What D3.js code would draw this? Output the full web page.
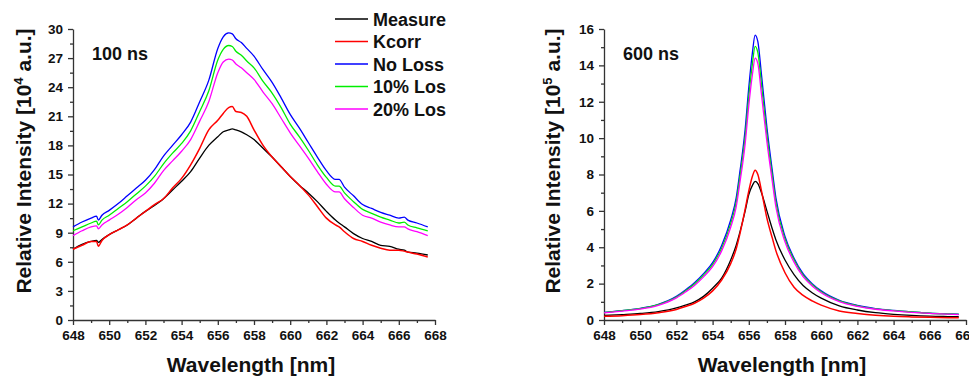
<!DOCTYPE html>
<html>
<head>
<meta charset="utf-8">
<script src="https://cdn.jsdelivr.net/npm/d3@7"></script>
<style>
  body { margin: 0; background: #fff; }
  svg text { font-family: Arial, "Liberation Sans", sans-serif; font-weight: bold; fill: #111; }
</style>
</head>
<body>
<div id="chartDiv"></div>
<script>
// series names + colours (legend order)
var seriesNames = ["Measure", "Kcorr", "No Loss", "10% Los", "20% Los"];
var seriesColors = ["#000000", "#ff0000", "#0000ff", "#00ee00", "#ff00ff"];

// 100 ns panel, values in 10^4 a.u.
var wlA = [648, 648.5, 649, 649.3, 649.4, 649.6, 650, 650.5, 651, 651.5,
           652, 652.5, 653, 653.5, 654, 654.5, 655, 655.5, 656, 656.3,
           656.6, 656.8, 657, 657.3, 657.6, 658, 658.5, 659, 659.5, 660,
           660.5, 661, 661.5, 662, 662.5, 662.7, 663, 663.5, 664, 664.5,
           665, 665.5, 666, 666.3, 666.5, 667, 667.6];
var measureA = [7.3, 7.8, 8.1, 8.2, 8.0, 8.3, 8.8, 9.3, 9.8, 10.5,
                11.2, 11.8, 12.5, 13.4, 14.3, 15.3, 16.7, 18.0, 18.9, 19.4,
                19.6, 19.7, 19.6, 19.4, 19.1, 18.6, 17.7, 16.8, 15.8, 14.8,
                13.9, 13.1, 12.2, 11.2, 10.3, 10.0, 9.6, 8.9, 8.4, 8.1,
                7.7, 7.6, 7.3, 7.2, 7.0, 6.9, 6.7];
var kcorrA = [7.3, 7.7, 8.1, 8.1, 7.6, 8.2, 8.8, 9.3, 9.8, 10.5,
              11.2, 11.9, 12.5, 13.6, 14.6, 16.0, 17.7, 19.6, 20.6, 21.3,
              21.9, 22.0, 21.5, 21.4, 21.0, 19.6, 18.0, 16.8, 15.8, 14.8,
              13.9, 12.9, 11.7, 10.5, 9.8, 9.6, 9.1, 8.4, 8.1, 7.7,
              7.4, 7.2, 7.2, 7.1, 7.0, 6.8, 6.5];
var noLossA = [9.6, 10.1, 10.5, 10.7, 10.3, 10.8, 11.3, 12.0, 12.8, 13.6,
               14.4, 15.5, 16.9, 18.0, 19.1, 20.4, 22.5, 24.7, 28.0, 29.2,
               29.6, 29.5, 29.0, 28.6, 28.0, 27.2, 25.8, 24.5, 22.9, 21.2,
               19.8, 18.3, 16.8, 15.4, 14.5, 14.5, 13.7, 12.8, 11.9, 11.5,
               11.1, 10.8, 10.5, 10.6, 10.3, 10.0, 9.6];
var loss10A = [9.2, 9.6, 10.0, 10.2, 9.8, 10.3, 10.8, 11.5, 12.2, 13.0,
               13.8, 14.8, 16.1, 17.2, 18.2, 19.5, 21.5, 23.6, 26.8, 27.9,
               28.3, 28.2, 27.7, 27.3, 26.7, 26.0, 24.6, 23.4, 21.9, 20.2,
               18.9, 17.5, 16.0, 14.7, 13.8, 13.8, 13.1, 12.2, 11.4, 11.0,
               10.6, 10.3, 10.0, 10.1, 9.8, 9.5, 9.2];
var loss20A = [8.7, 9.2, 9.6, 9.7, 9.4, 9.8, 10.3, 10.9, 11.6, 12.4,
               13.1, 14.1, 15.4, 16.4, 17.4, 18.6, 20.5, 22.5, 25.5, 26.6,
               26.9, 26.8, 26.4, 26.0, 25.5, 24.8, 23.5, 22.3, 20.8, 19.3,
               18.0, 16.7, 15.3, 14.0, 13.2, 13.2, 12.5, 11.6, 10.8, 10.5,
               10.1, 9.8, 9.6, 9.6, 9.4, 9.1, 8.7];

// 600 ns panel, values in 10^5 a.u.
var wlB = [648, 649, 650, 651, 652, 652.5, 653, 653.5, 654, 654.5,
           655, 655.3, 655.5, 655.8, 656, 656.2, 656.35, 656.5, 656.7, 657,
           657.3, 657.5, 658, 658.5, 659, 659.5, 660, 661, 662, 663,
           664, 665, 666, 667, 667.6];
var measureB = [0.25, 0.3, 0.36, 0.46, 0.66, 0.82, 1.0, 1.3, 1.75, 2.3,
                3.3, 4.1, 4.8, 6.0, 6.9, 7.4, 7.62, 7.5, 7.0, 6.0,
                5.0, 4.4, 3.3, 2.5, 1.9, 1.5, 1.2, 0.78, 0.55, 0.4,
                0.31, 0.25, 0.21, 0.19, 0.18];
var kcorrB = [0.2, 0.24, 0.3, 0.4, 0.58, 0.74, 0.92, 1.2, 1.6, 2.2,
              3.1, 3.9, 4.7, 6.1, 7.1, 7.9, 8.24, 8.0, 7.1, 5.6,
              4.5, 3.8, 2.6, 1.8, 1.35, 1.05, 0.82, 0.5, 0.36, 0.26,
              0.2, 0.17, 0.15, 0.13, 0.12];
var noLossB = [0.42, 0.52, 0.64, 0.86, 1.3, 1.65, 2.05, 2.55, 3.15, 4.1,
               5.5, 6.7, 8.1, 10.5, 12.8, 14.7, 15.66, 15.3, 13.5, 10.6,
               8.2, 6.7, 4.6, 3.4, 2.55, 2.0, 1.6, 1.08, 0.8, 0.63,
               0.53, 0.45, 0.38, 0.34, 0.32];
var loss10B = [0.41, 0.51, 0.62, 0.84, 1.26, 1.6, 1.98, 2.47, 3.05, 3.95,
               5.3, 6.45, 7.8, 10.1, 12.3, 14.1, 15.05, 14.7, 12.95, 10.2,
               7.9, 6.45, 4.45, 3.3, 2.47, 1.94, 1.55, 1.05, 0.78, 0.61,
               0.52, 0.44, 0.37, 0.33, 0.31];
var loss20B = [0.39, 0.49, 0.6, 0.81, 1.22, 1.54, 1.9, 2.37, 2.93, 3.8,
               5.1, 6.2, 7.5, 9.7, 11.8, 13.5, 14.4, 14.1, 12.4, 9.8,
               7.6, 6.2, 4.3, 3.18, 2.38, 1.87, 1.5, 1.01, 0.75, 0.59,
               0.5, 0.42, 0.36, 0.32, 0.3];

var xTicks = d3.range(648, 669, 2);
var xMinor = d3.range(649, 668, 2);
var yTicksA = d3.range(0, 31, 3), yMinorA = d3.range(1.5, 30, 3);
var yTicksB = d3.range(0, 17, 2), yMinorB = d3.range(1, 16, 2);

var svg = d3.select("#chartDiv").append("svg")
    .attr("width", 969).attr("height", 380);

function drawPanel(p) {
  var x = d3.scaleLinear().domain([648, 668]).range([p.left, p.right]);
  var y = d3.scaleLinear().domain([0, p.ymax]).range([320, 29]);
  var g = svg.append("g");

  // minor ticks first
  g.append("g").attr("transform", "translate(0,320)")
    .call(d3.axisBottom(x).tickValues(xMinor).tickSize(3).tickFormat(""))
    .call(function(s){ s.select(".domain").remove(); });
  g.append("g").attr("transform", "translate(" + p.left + ",0)")
    .call(d3.axisLeft(y).tickValues(p.yMinor).tickSize(3).tickFormat(""))
    .call(function(s){ s.select(".domain").remove(); });

  g.append("g").attr("transform", "translate(0,320)")
    .call(d3.axisBottom(x).tickValues(xTicks).tickSize(5).tickSizeOuter(0).tickPadding(5));
  g.append("g").attr("transform", "translate(" + p.left + ",0)")
    .call(d3.axisLeft(y).tickValues(p.yTicks).tickSize(5).tickSizeOuter(0).tickPadding(5));
  g.selectAll(".tick line, .domain").attr("stroke", "#333").attr("stroke-width", 1.3);
  g.selectAll(".tick text").style("font-size", "13.5px")
    .style("font-family", "Arial, 'Liberation Sans', sans-serif")
    .style("font-weight", "bold").attr("fill", "#111");

  var line = d3.line()
    .x(function(d){ return x(d[0]); })
    .y(function(d){ return y(d[1]); })
    .curve(d3.curveMonotoneX);

  p.series.forEach(function(vals, i) {
    var pts = p.wl.map(function(w, j){ return [w, vals[j]]; });
    g.append("path").datum(pts)
      .attr("d", line)
      .attr("fill", "none")
      .attr("stroke", seriesColors[i])
      .attr("stroke-width", i == 1 ? 1.5 : 1.3);
  });

  // panel label
  g.append("text").attr("x", p.left + 19).attr("y", 60)
    .style("font-size", "18px").text(p.label);

  // axis titles
  g.append("text").attr("x", (p.left + p.right) / 2 - 3).attr("y", 372)
    .attr("text-anchor", "middle").style("font-size", "21px").text("Wavelength [nm]");

  var yt = g.append("text")
    .attr("transform", "translate(" + p.titleX + ",161) rotate(-90)")
    .attr("text-anchor", "middle").style("font-size", "21px");
  yt.append("tspan").text("Relative Intensity [10");
  yt.append("tspan").attr("dy", -8).style("font-size", "13px").text(p.exp);
  yt.append("tspan").attr("dy", 8).text(" a.u.]");
}

drawPanel({left: 73, right: 435, ymax: 30, yTicks: yTicksA, yMinor: yMinorA,
  wl: wlA, series: [measureA, kcorrA, noLossA, loss10A, loss20A],
  label: "100 ns", exp: "4", titleX: 31});
drawPanel({left: 604, right: 966, ymax: 16, yTicks: yTicksB, yMinor: yMinorB,
  wl: wlB, series: [measureB, kcorrB, noLossB, loss10B, loss20B],
  label: "600 ns", exp: "5", titleX: 560});

// legend (top of left panel)
var legend = svg.append("g").attr("class", "legend");
seriesNames.forEach(function(n, i) {
  var ly = 19 + i * 22.5;
  legend.append("path")
    .attr("d", "M335," + ly + "H368")
    .style("stroke", seriesColors[i]).style("stroke-width", "1.6px");
  legend.append("text").attr("x", 373).attr("y", ly + 6.5)
    .style("font-size", "18px").text(n);
});
</script>
</body>
</html>
